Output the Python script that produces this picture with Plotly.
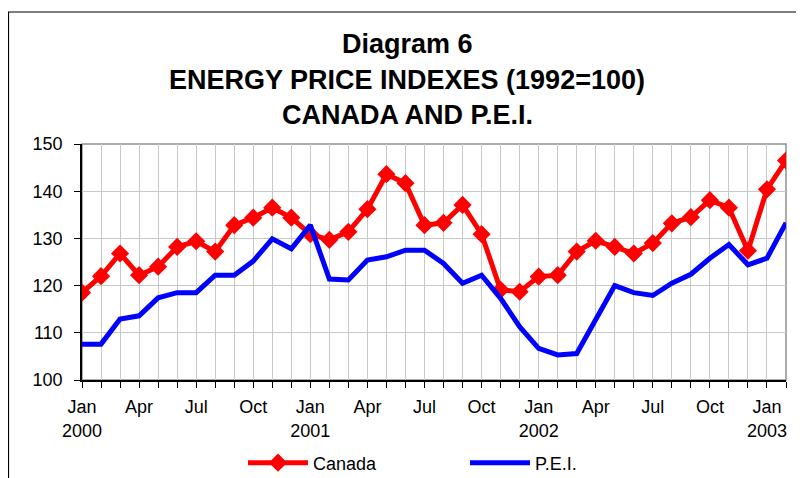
import plotly.graph_objects as go

MONTHS = [f"{y}-{m:02d}" for y in (2000, 2001, 2002) for m in range(1, 13)] + ["2003-01", "2003-02"]

CANADA = [118.5, 122.0, 126.8, 122.2, 124.0, 128.2, 129.4, 127.2, 132.8, 134.4, 136.5, 134.4,
          130.9, 129.7, 131.4, 136.2, 143.6, 141.7, 132.8, 133.3, 137.1, 130.9, 119.1, 118.7,
          121.9, 122.2, 127.2, 129.5, 128.2, 126.8, 129.0, 133.2, 134.5, 138.1, 136.5, 127.4,
          140.4, 146.5]

PEI = [107.6, 107.6, 112.9, 113.6, 117.4, 118.5, 118.5, 122.2, 122.2, 125.2, 129.9, 127.8,
       132.8, 121.4, 121.2, 125.4, 126.1, 127.5, 127.5, 124.7, 120.5, 122.2, 117.3, 111.3,
       106.7, 105.3, 105.6, 113.0, 120.0, 118.5, 117.9, 120.5, 122.4, 125.8, 128.7, 124.4,
       125.8, 133.3]

TICK_LABELS = ["Jan<br>2000", "Apr", "Jul", "Oct",
               "Jan<br>2001", "Apr", "Jul", "Oct",
               "Jan<br>2002", "Apr", "Jul", "Oct",
               "Jan<br>2003"]

TITLE_LINES = ["Diagram 6", "ENERGY PRICE INDEXES (1992=100)", "CANADA AND P.E.I."]

x = list(range(len(MONTHS)))
FONT = "Liberation Sans, Arial, sans-serif"

fig = go.Figure()
fig.add_trace(go.Scatter(
    x=x, y=CANADA, name="Canada", mode="lines+markers",
    line=dict(color="#ff0000", width=5),
    marker=dict(symbol="diamond", size=14, color="#ff0000"),
    customdata=MONTHS,
))
fig.add_trace(go.Scatter(
    x=x, y=PEI, name="P.E.I.", mode="lines",
    line=dict(color="#0000ff", width=5),
    customdata=MONTHS,
))

# page is drawn with an 8px body margin; work in page pixels and convert
OFF = 8
W, H = 804 - OFF, 478 - OFF
L = 82 - OFF
T = 144 - OFF
R = W - (786 - OFF)
B = H - (380 - OFF)
pw, ph = W - L - R, H - T - B

def px_x(p):
    return (p - OFF - L) / pw

def px_y(p):
    return (H - B - (p - OFF)) / ph

annotations = []
for txt, yc in zip(TITLE_LINES, (44, 80, 115)):
    annotations.append(dict(
        text=f"<b>{txt}</b>", x=px_x(407), y=px_y(yc), xref="paper", yref="paper",
        xanchor="center", yanchor="middle", showarrow=False,
        font=dict(family=FONT, size=27, color="black"),
    ))

shapes = [
    dict(type="rect", xref="paper", yref="paper", x0=px_x(8.5), x1=px_x(812),
         y0=px_y(490), y1=px_y(12), line=dict(color="black", width=1.2), layer="below"),
    dict(type="rect", xref="paper", yref="paper", x0=0, x1=1, y0=0, y1=1,
         line=dict(color="#909090", width=1.5), layer="below"),
]

fig.update_layout(
    width=W, height=H,
    margin=dict(l=L, r=R, t=T, b=B, autoexpand=False),
    paper_bgcolor="white", plot_bgcolor="white",
    font=dict(family=FONT, size=18, color="black"),
    showlegend=True,
    legend=dict(orientation="h", x=px_x(243), xanchor="left", y=px_y(463), yanchor="middle",
                font=dict(size=18), itemwidth=60, entrywidth=147, entrywidthmode="pixels",
                bgcolor="rgba(0,0,0,0)"),
    annotations=annotations,
    shapes=shapes,
    xaxis=dict(
        range=[0, len(MONTHS) - 1],
        tickmode="array", tickvals=x[::3], ticktext=TICK_LABELS,
        ticks="outside", ticklen=6, tickcolor="black",
        showline=True, linecolor="black", linewidth=1.5,
        showgrid=True, gridcolor="#c8c8c8", gridwidth=1,
        minor=dict(tickmode="linear", tick0=0, dtick=1, ticks="outside", ticklen=6,
                   tickcolor="black", showgrid=True, gridcolor="#c8c8c8", gridwidth=1),
        zeroline=False, ticklabelstandoff=4, automargin=False,
    ),
    yaxis=dict(
        range=[100, 150], dtick=10, tick0=100,
        ticks="outside", ticklen=6, tickcolor="black",
        showline=True, linecolor="black", linewidth=1.5,
        showgrid=True, gridcolor="#c8c8c8", gridwidth=1,
        zeroline=False, ticklabelstandoff=8, automargin=False,
    ),
)

fig.write_html("out.html")
